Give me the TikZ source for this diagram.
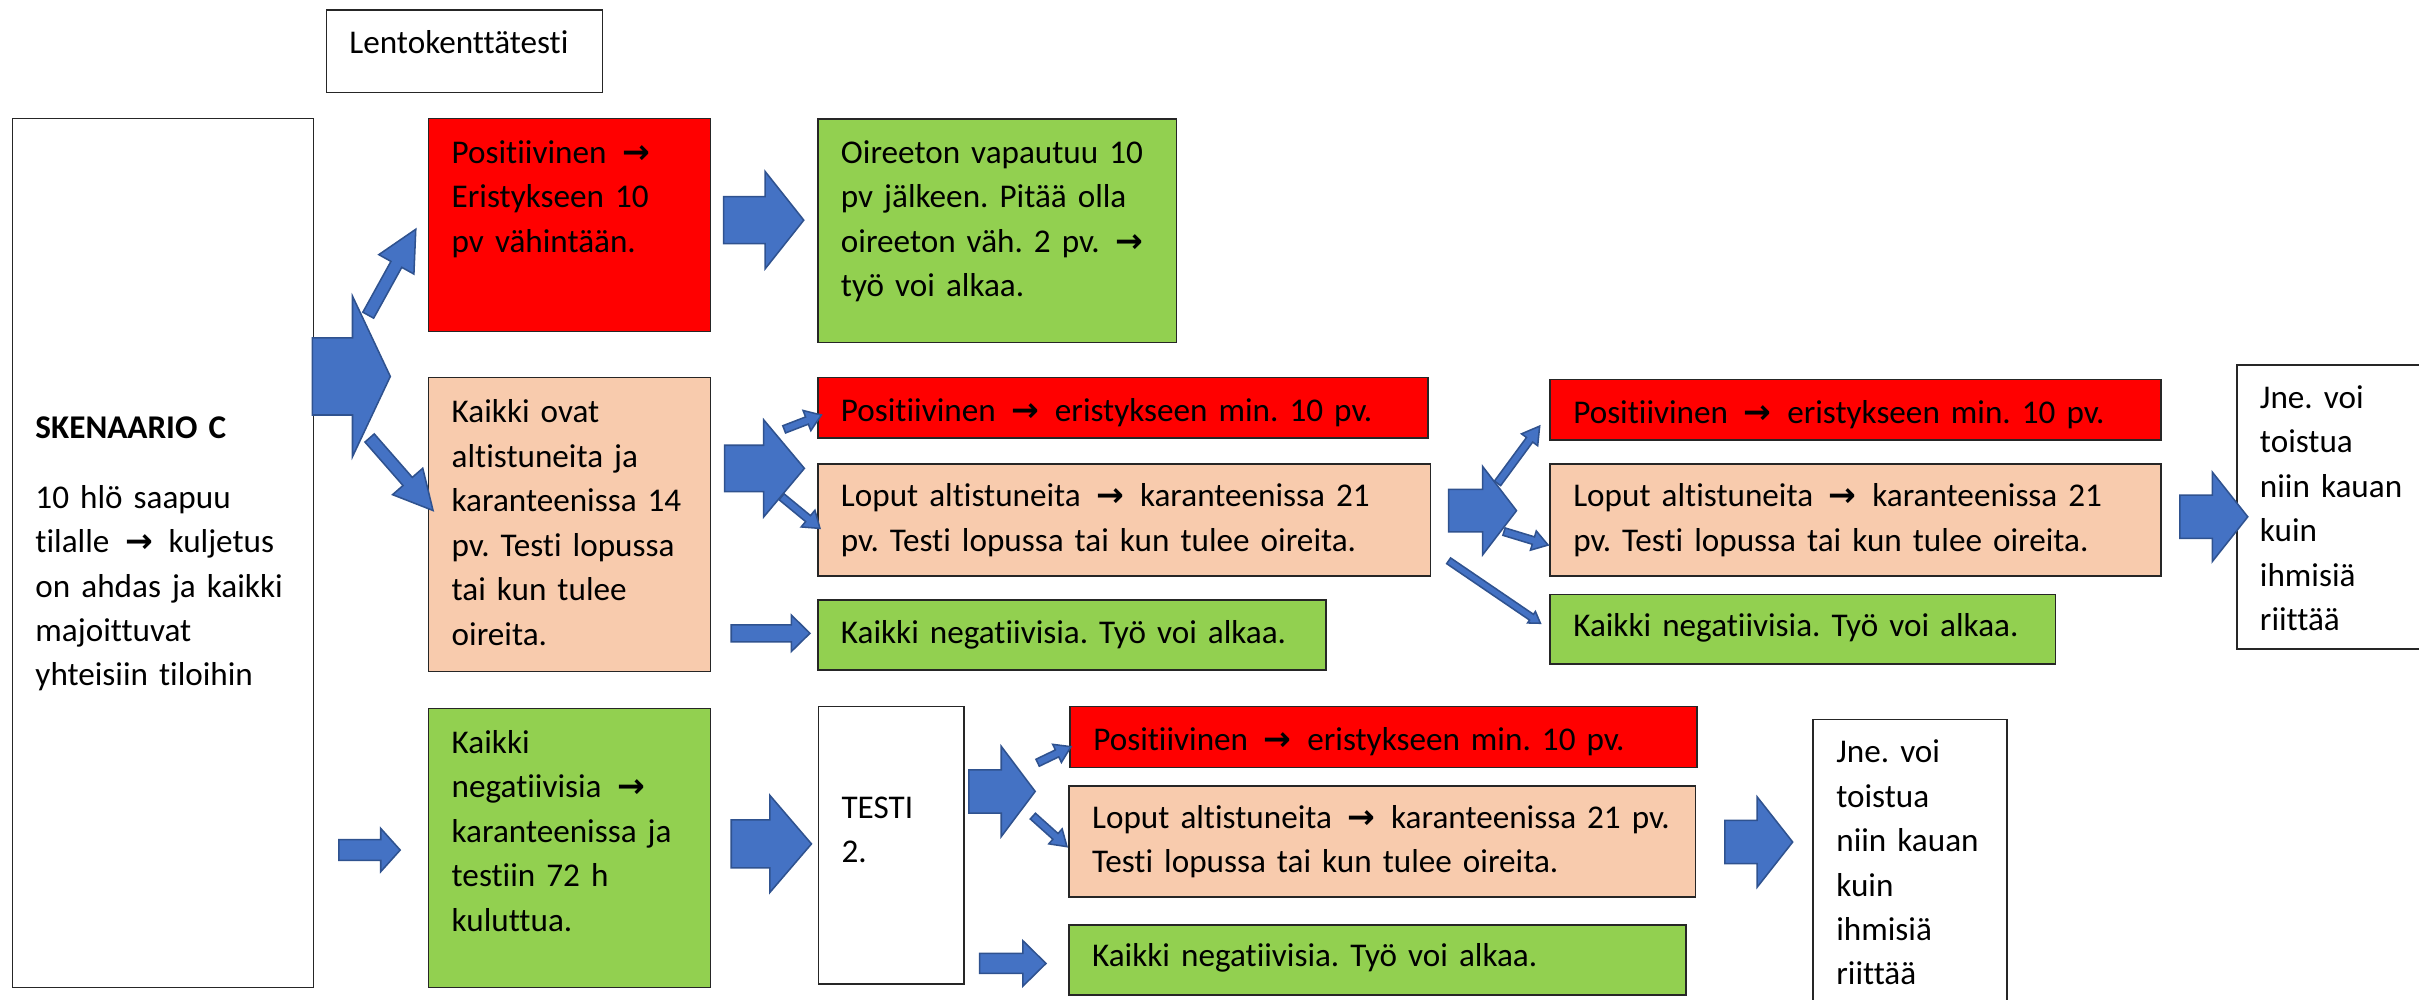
\documentclass[tikz,border=0pt]{standalone}
\usepackage{fontspec}
\setmainfont[Ligatures={NoCommon,NoContextual,NoRequired,NoRare}]{Carlito}
\newfontfamily\symfont{DejaVu Sans}
\usetikzlibrary{calc}
\frenchspacing

\definecolor{peach}{HTML}{F8CBAD}
\definecolor{leaf}{HTML}{92D050}
\definecolor{arrowblue}{HTML}{4472C4}
\definecolor{arrowline}{HTML}{2F528F}

% arrow sign inside the texts
\newcommand{\arr}{\kern3pt{\symfont\bfseries →}\kern3pt}

% block arrow: name, tail, tip, half shaft, half head, head length
\newcommand{\blockarrow}[6]{%
  \coordinate (#1-t) at #2;
  \coordinate (#1-p) at #3;
  \coordinate (#1-h) at ($(#1-p)!#6!(#1-t)$);
  \draw[barrow] ($(#1-t)!#4!90:(#1-p)$) -- ($(#1-h)!#4!90:(#1-p)$)
    -- ($(#1-h)!#5!90:(#1-p)$) -- (#1-p)
    -- ($(#1-h)!#5!-90:(#1-p)$) -- ($(#1-h)!#4!-90:(#1-p)$)
    -- ($(#1-t)!#4!-90:(#1-p)$) -- cycle;
}

\begin{document}
\begin{tikzpicture}[x=1pt, y=-1pt,
    box/.style={draw=black!85, line width=1pt, inner xsep=15pt, inner ysep=0pt,
      anchor=base west, align=left, font=\fontsize{21.5}{28.8}\selectfont},
    redbox/.style={box, fill=red},
    peachbox/.style={box, fill=peach},
    greenbox/.style={box, fill=leaf},
    whitebox/.style={box, fill=white},
    barrow/.style={fill=arrowblue, draw=arrowline, line width=1pt}]

		\useasboundingbox (0,0) rectangle (1568,648);

		% first column
		\node[whitebox, text width=149pt, text height=28.1pt, text depth=25.4pt] (lento) at (211,34.6) {Lentokenttätesti};

		\node[whitebox, text width=165.2pt, text height=207.4pt, text depth=356pt] (sken) at (7.5,284.1)
			{\textbf{SKENAARIO C}\\[16.5pt] 10 hlö saapuu\\ tilalle \arr{} kuljetus\\ on ahdas ja kaikki\\ majoittuvat\\ yhteisiin tiloihin};

		% second column
		\node[redbox, text width=152.7pt, text height=29.2pt, text depth=109.1pt] (posA) at (277.3,105.9)
			{Positiivinen \arr\\ Eristykseen 10\\ pv vähintään.};

		\node[peachbox, text width=152.7pt, text height=29.4pt, text depth=161.3pt] (kaikki) at (277.3,274.1)
			{Kaikki ovat\\ altistuneita ja\\ karanteenissa 14\\ pv. Testi lopussa\\ tai kun tulee\\ oireita.};

		\node[greenbox, text width=152.7pt, text height=29.1pt, text depth=151.8pt] (negA) at (277.3,488.3)
			{Kaikki\\ negatiivisia \arr\\ karanteenissa ja\\ testiin 72 h\\ kuluttua.};

		% third column
		\node[greenbox, text width=202.4pt, text height=29pt, text depth=116pt] (oireA) at (529.6,106)
			{Oireeton vapautuu 10\\ pv jälkeen. Pitää olla\\ oireeton väh. 2 pv. \arr\\ työ voi alkaa.};

		\node[redbox, text width=365.6pt, text height=28.5pt, text depth=10.7pt] (posB) at (529.6,273.3)
			{Positiivinen \arr{} eristykseen min. 10 pv.};
		\node[peachbox, text width=367.1pt, text height=27.6pt, text depth=45pt] (loputB) at (529.6,328.4)
			{Loput altistuneita \arr{} karanteenissa 21\\ pv. Testi lopussa tai kun tulee oireita.};
		\node[greenbox, text width=299.4pt, text height=28.1pt, text depth=17.3pt] (negB) at (529.6,417)
			{Kaikki negatiivisia. Työ voi alkaa.};

		\node[whitebox, text width=64.5pt, text height=72.5pt, text depth=107.3pt] (testi) at (530,530.5)
			{TESTI\\ 2.};

		\node[redbox, text width=376.2pt, text height=28.2pt, text depth=11.2pt] (posD) at (693.2,486.2)
			{Positiivinen \arr{} eristykseen min. 10 pv.};
		\node[peachbox, text width=376pt, text height=27.5pt, text depth=44.6pt] (loputD) at (692.4,537)
			{Loput altistuneita \arr{} karanteenissa 21 pv.\\ Testi lopussa tai kun tulee oireita.};
		\node[greenbox, text width=369.8pt, text height=27pt, text depth=18.4pt] (negD) at (692.4,626.6)
			{Kaikki negatiivisia. Työ voi alkaa.};

		\node[whitebox, text width=95.5pt, text height=28.1pt, text depth=180pt] (jneB) at (1174.8,494.4)
			{Jne. voi\\ toistua\\ niin kauan\\ kuin\\ ihmisiä\\ riittää};

		% fourth column
		\node[redbox, text width=365.9pt, text height=28.5pt, text depth=10.8pt] (posC) at (1004.3,274.4)
			{Positiivinen \arr{} eristykseen min. 10 pv.};
		\node[peachbox, text width=365.9pt, text height=27.6pt, text depth=45pt] (loputC) at (1004.3,328.4)
			{Loput altistuneita \arr{} karanteenissa 21\\ pv. Testi lopussa tai kun tulee oireita.};
		\node[greenbox, text width=297.7pt, text height=27.4pt, text depth=17.7pt] (negC) at (1004.3,412.7)
			{Kaikki negatiivisia. Työ voi alkaa.};

		\node[whitebox, text width=130pt, text height=28.1pt, text depth=156pt] (jneA) at (1449.4,264.7)
			{Jne. voi\\ toistua\\ niin kauan\\ kuin\\ ihmisiä\\ riittää};

		% block arrows
		\blockarrow{arrSken}{(202.5,244)}{(253,244)}{25pt}{52pt}{24.5pt}
		\blockarrow{arrUp}{(238.7,204.3)}{(269.5,148.6)}{4pt}{13pt}{26pt}
		\blockarrow{arrDown}{(239.6,283.9)}{(280.7,330.9)}{4pt}{13pt}{25pt}
		\blockarrow{arrPosA}{(469,142.7)}{(521,142.7)}{15.25pt}{31.5pt}{25pt}
		\blockarrow{arrNegA}{(219.7,551)}{(259.4,551)}{6.75pt}{14pt}{12.6pt}

		\blockarrow{arrKaikki}{(469.7,303.6)}{(521.4,303.6)}{15pt}{31.5pt}{26.4pt}
		\blockarrow{arrPosB}{(508.3,278.3)}{(532.4,269)}{2.5pt}{7pt}{10pt}
		\blockarrow{arrLoputB}{(506.6,322)}{(531.5,342.5)}{2.5pt}{7pt}{10pt}
		\blockarrow{arrNegB}{(474,410.5)}{(525,410.5)}{5.5pt}{11.75pt}{12pt}

		\blockarrow{arrRow}{(939,331)}{(983,331)}{13.8pt}{28.7pt}{22pt}
		\blockarrow{arrPosC}{(970.7,313.3)}{(998,276.2)}{2.5pt}{6.5pt}{11pt}
		\blockarrow{arrLoputC}{(974.9,344.6)}{(1003.5,353.3)}{2.5pt}{6.5pt}{10pt}
		\blockarrow{arrNegC}{(939,363.5)}{(998.5,404)}{2.25pt}{4.5pt}{7pt}
		\blockarrow{arrJneA}{(1413,335)}{(1457,335)}{14pt}{29pt}{23pt}

		\blockarrow{arrTesti}{(474,547)}{(526,547)}{15.5pt}{31.5pt}{27pt}
		\blockarrow{arrTesti2}{(628,513)}{(671,513)}{14pt}{29.25pt}{22pt}
		\blockarrow{arrPosD}{(672.6,494.4)}{(694.2,484)}{2.5pt}{6.5pt}{10pt}
		\blockarrow{arrLoputD}{(669.5,529)}{(691.6,548.8)}{2.5pt}{6.5pt}{10pt}
		\blockarrow{arrNegD}{(635,624.5)}{(678,624.5)}{6.5pt}{14.75pt}{15pt}
		\blockarrow{arrJneB}{(1118,545.8)}{(1162,545.8)}{14pt}{29.25pt}{23pt}
	\end{tikzpicture}
\end{document}
